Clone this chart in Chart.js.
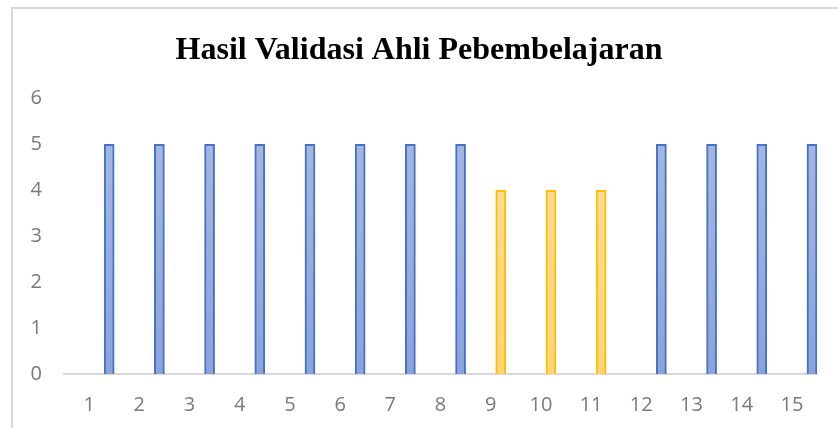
<!DOCTYPE html>
<html>
<head>
<meta charset="utf-8">
<script src="https://cdn.jsdelivr.net/npm/chart.js@4"></script>
<style>
  html, body { margin: 0; padding: 0; background: #fff; overflow: hidden; }
  #frame { position: absolute; left: 11px; top: 7px; width: 900px; height: 500px; border: 2px solid #d9d9d9; }
  #wrap { position: absolute; left: 0; top: 0; width: 838px; height: 428px; }
</style>
</head>
<body>
<div id="frame"></div>
<div id="wrap"><canvas id="ValidasiChart" width="838" height="428"></canvas></div>
<script>
(function () {
  "use strict";

  // Data
  const labels = ['1','2','3','4','5','6','7','8','9','10','11','12','13','14','15'];
  const skor1 = [null,null,null,null,null,null,null,null,null,null,null,null,null,null,null];
  const skor2 = [null,null,null,null,null,null,null,null,null,null,null,null,null,null,null];
  const skor3 = [null,null,null,null,null,null,null,null,null,null,null,null,null,null,null];
  const skor4 = [null,null,null,null,null,null,null,null,4,4,4,null,null,null,null];
  const skor5 = [5,5,5,5,5,5,5,5,null,null,null,5,5,5,5];
  const yTicks = [0, 6];

  // Colors
  const blue_border   = '#4472C4';
  const yellow_border = '#FFC000';
  const tick_gray     = '#7a7a7a';

  function barGradient(top, bottom) {
    return function (ctx) {
      const area = ctx.chart.chartArea;
      if (!area) return bottom;
      const g = ctx.chart.ctx.createLinearGradient(0, area.top, 0, area.bottom);
      g.addColorStop(0, top);
      g.addColorStop(1, bottom);
      return g;
    };
  }

  const canvas = document.getElementById('ValidasiChart');
  const ctx = canvas.getContext('2d');

  const ValidasiChart = new Chart(ctx, {
    type: 'bar',
    data: {
      labels: labels,
      datasets: [
        { label: 'Skor 1', data: skor1, backgroundColor: '#999', borderWidth: 0 },
        { label: 'Skor 2', data: skor2, backgroundColor: '#999', borderWidth: 0 },
        { label: 'Skor 3', data: skor3, backgroundColor: '#999', borderWidth: 0 },
        {
          label: 'Skor 4',
          data: skor4,
          backgroundColor: barGradient('#FFDF9E', '#FFD479'),
          borderColor: yellow_border,
          borderWidth: 2,
          borderSkipped: 'bottom'
        },
        {
          label: 'Skor 5',
          data: skor5,
          backgroundColor: barGradient('#A9B9E3', '#8BA3DB'),
          borderColor: blue_border,
          borderWidth: 2,
          borderSkipped: 'bottom'
        }
      ]
    },
    options: {
      responsive: false,
      animation: false,
      categoryPercentage: 1,
      barPercentage: 1,
      layout: {
        padding: 0
      },
      scales: {
        x: {
          grid: { display: false, drawTicks: false },
          border: { display: true, color: '#d9d9d9', width: 2 },
          ticks: {
            color: tick_gray,
            font: { family: 'Open Sans', size: 20 },
            padding: 19
          },
          afterFit: function (scale) { scale.height = 54; }
        },
        y: {
          min: yTicks[0],
          max: yTicks[1],
          grid: { display: false, drawTicks: false },
          border: { display: false },
          ticks: {
            stepSize: 1,
            color: tick_gray,
            font: { family: 'Open Sans', size: 20 },
            padding: 22
          },
          afterFit: function (scale) { scale.width = 64; }
        },
        // empty right gutter so the title centres on the whole canvas
        yRight: {
          position: 'right',
          grid: { display: false, drawTicks: false },
          border: { display: false },
          ticks: { display: false },
          afterFit: function (scale) { scale.width = 21; }
        }
      },
      plugins: {
        legend: { display: false },
        tooltip: { enabled: false },
        title: {
          display: true,
          text: 'Hasil Validasi Ahli Pebembelajaran',
          color: '#000',
          font: { family: 'Liberation Serif', size: 32, weight: 'bold', lineHeight: 1.2 },
          padding: { top: 32, bottom: 28 }
        }
      }
    }
  });
})();
</script>
</body>
</html>
